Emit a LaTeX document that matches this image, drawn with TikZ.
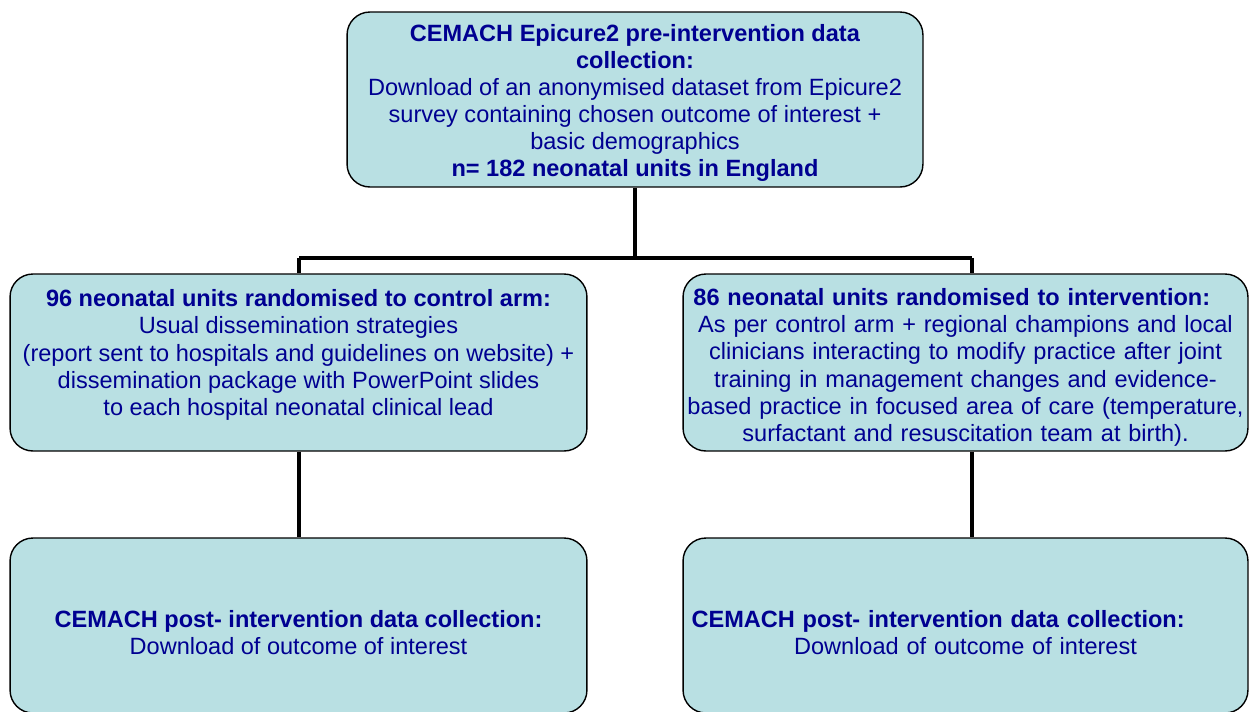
\documentclass[tikz,border=0pt]{standalone}
\usepackage{fontspec}
\setmainfont{Liberation Sans}
\usepackage{tikz}
\definecolor{boxfill}{RGB}{185, 224, 227}
\definecolor{boxtext}{RGB}{0, 0, 145}
\newcommand{\padtop}[1]{\rule{0pt}{#1}}

\begin{document}
\begin{tikzpicture}[x=0.02cm, y=-0.02cm,
  stage/.style={draw=black, line width=0.8pt, rounded corners=13pt, fill=boxfill,
    text=boxtext, align=center, inner sep=0pt,
    font=\fontsize{13.4}{15.4}\selectfont},
  link/.style={line width=2.3pt, black}]
\useasboundingbox (0,0) rectangle (1251,711);
% Pre-intervention data collection
\node[stage, minimum width=11.52cm, minimum height=3.5cm] (pre) at (635,99.5)
  {\padtop{14pt}\textbf{CEMACH Epicure2 pre-intervention data}\\
   \textbf{collection:}\\
   Download of an anonymised dataset from Epicure2\\
   survey containing chosen outcome of interest +\\
   basic demographics\\
   \textbf{n= 182 neonatal units in England}};

% Randomised arms
\node[stage, minimum width=11.54cm, minimum height=3.54cm] (ctrl) at (298.5,362.5)
  {\textbf{96 neonatal units randomised to control arm:}\\
   Usual dissemination strategies\\
   (report sent to hospitals and guidelines on website) +\\
   dissemination package with PowerPoint slides\\
   to each hospital neonatal clinical lead\\[-4pt]\mbox{}};
\node[stage, minimum width=11.3cm, minimum height=3.54cm, text width=11.2cm] (intv) at (965.5,362.5)
  {\hbox to \hsize{\hspace{4.5pt}\padtop{15.3pt}\textbf{86 neonatal units randomised to intervention:}\hfil}\\
   As per control arm + regional champions and local\\
   clinicians interacting to modify practice after joint\\
   training in management changes and evidence-\\
   based practice in focused area of care (temperature,\\
   surfactant and resuscitation team at birth).};

% Post-intervention data collection
\node[stage, minimum width=11.54cm, minimum height=3.5cm] (postc) at (298.5,625.5)
  {\padtop{17.7pt}\textbf{CEMACH post- intervention data collection:}\\
   Download of outcome of interest};
\node[stage, minimum width=11.3cm, minimum height=3.5cm, text width=10.96cm] (posti) at (965.5,625.5)
  {\hbox to \hsize{\padtop{17.7pt}\textbf{CEMACH post- intervention data collection:}\hfil}\\
   Download of outcome of interest};

% Connectors
\coordinate (split) at (635,258);
\coordinate (jl) at (299,258);
\coordinate (jr) at (972,258);
\draw[link] (pre.south) -- (split);
\draw[link] (jl) -- (jr);
\draw[link] (jl) -- (jl |- ctrl.north);
\draw[link] (jr) -- (jr |- intv.north);
\draw[link] (ctrl.south -| jl) -- (jl |- postc.north);
\draw[link] (intv.south -| jr) -- (jr |- posti.north);
\end{tikzpicture}
\end{document}
